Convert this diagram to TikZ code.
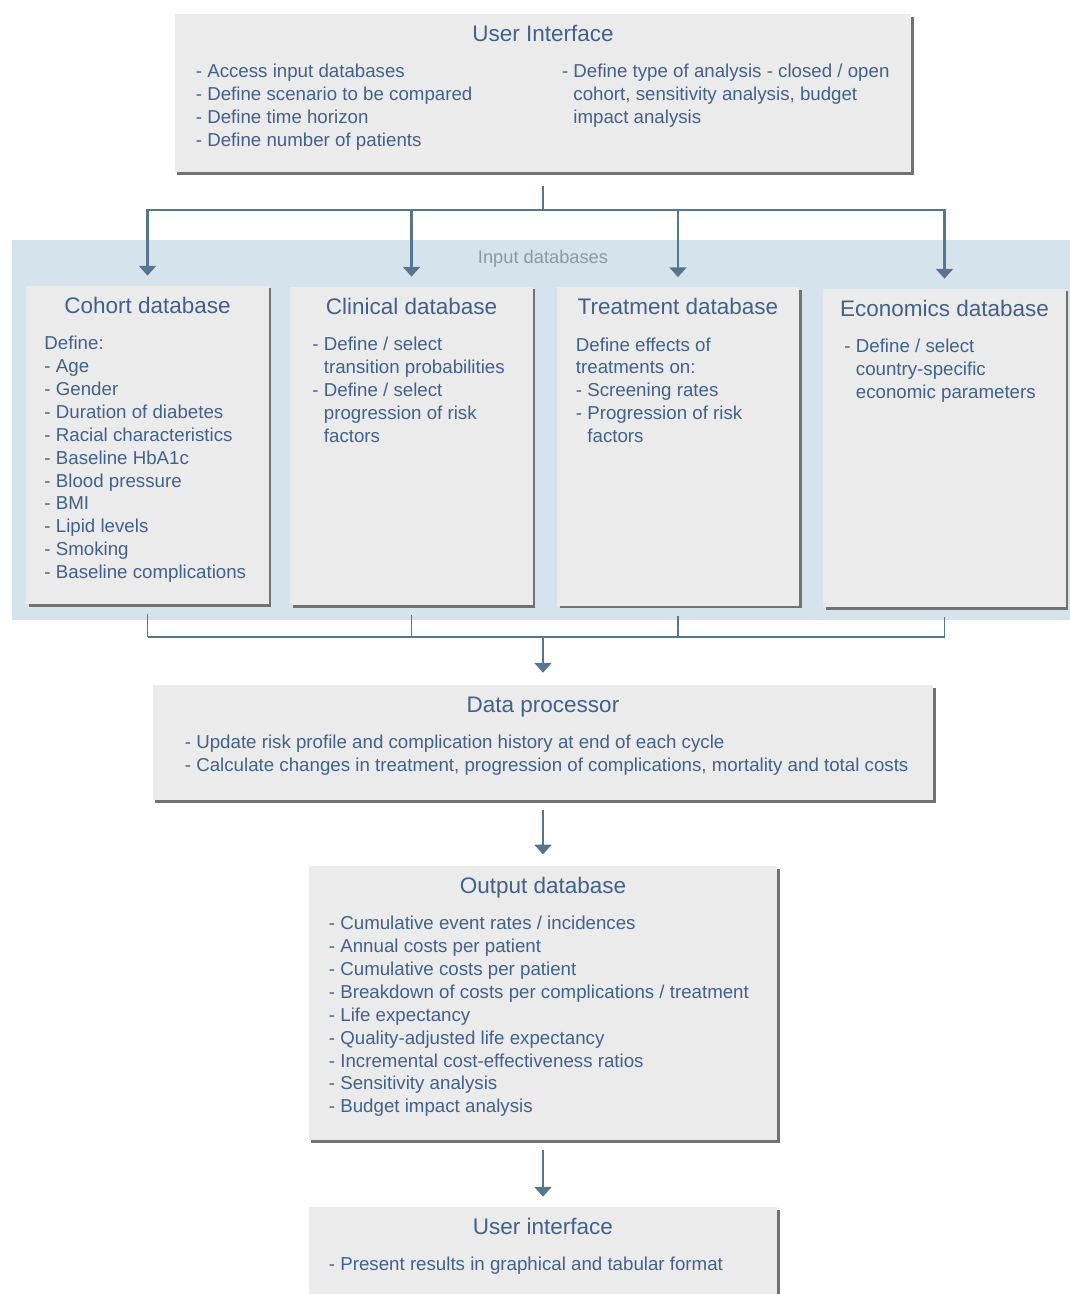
\documentclass[tikz,border=0pt]{standalone}
\usepackage{fontspec}
\setmainfont{Liberation Sans}
\usetikzlibrary{positioning,arrows.meta,shadows}

\definecolor{boxgray}{HTML}{ECEBEB}
\definecolor{bandblue}{HTML}{D5E3EC}
\definecolor{textblue}{HTML}{41618A}
\definecolor{linkblue}{HTML}{56768F}
\definecolor{shadegray}{HTML}{727272}
\definecolor{labelgray}{HTML}{8D99A3}

\begin{document}
\begin{tikzpicture}[x=0.025cm,y=-0.025cm,
  box/.style={fill=boxgray,inner sep=0pt,
    drop shadow={shadow xshift=1.8pt,shadow yshift=-1.8pt,fill=shadegray,opacity=1}},
  dbbox/.style={box,minimum width=6.05cm,minimum height=7.95cm},
  title/.style={font=\fontsize{16}{19}\selectfont,text=textblue,inner sep=0pt,
    text height=12pt,text depth=3pt},
  items/.style={font=\fontsize{13.3}{16.3}\selectfont,text=textblue,align=left,inner sep=0pt},
  link/.style={draw=linkblue,line width=2pt},
  thin link/.style={draw=linkblue,line width=0.8pt},
  arrow/.style={link,-{Triangle[width=12pt,length=7pt]}}]

\useasboundingbox (0,0) rectangle (1070,1294);

% user interface
\node[box,minimum width=18.4cm,minimum height=3.95cm] (ui) at (543,93) {};
\node[title,below=0.26cm of ui.north] (ui-title) {User Interface};
\node[items,below right=1.25cm and 0.525cm of ui.north west] (ui-left)
  {- Access input databases\\- Define scenario to be compared\\- Define time horizon\\- Define number of patients};
\node[items,below right=1.25cm and 9.675cm of ui.north west] (ui-right)
  {- Define type of analysis - closed / open\\\phantom{- }cohort, sensitivity analysis, budget\\\phantom{- }impact analysis};

% input databases
\fill[bandblue] (12,240) rectangle (1070,620);
\node[font=\fontsize{13}{16}\selectfont,text=labelgray] (inputs) at (543,259) {Input databases};

\node[dbbox] (cohort) at (147.5,445) {};
\node[dbbox] (clinical) at (411.5,446) {};
\node[dbbox] (treatment) at (678,446.5) {};
\node[dbbox] (economics) at (944.5,448) {};

\node[title,below=0.26cm of cohort.north] (cohort-title) {Cohort database};
\node[title,below=0.26cm of clinical.north] (clinical-title) {Clinical database};
\node[title,below=0.26cm of treatment.north] (treatment-title) {Treatment database};
\node[title,below=0.26cm of economics.north] (economics-title) {Economics database};

\node[items,below right=1.25cm and 0.45cm of cohort.north west] (cohort-items)
  {Define:\\- Age\\- Gender\\- Duration of diabetes\\- Racial characteristics\\- Baseline HbA1c\\- Blood pressure\\- BMI\\- Lipid levels\\- Smoking\\- Baseline complications};
\node[items,below right=1.25cm and 0.55cm of clinical.north west] (clinical-items)
  {- Define / select\\\phantom{- }transition probabilities\\- Define / select\\\phantom{- }progression of risk\\\phantom{- }factors};
\node[items,below right=1.25cm and 0.475cm of treatment.north west] (treatment-items)
  {Define effects of\\treatments on:\\- Screening rates\\- Progression of risk\\\phantom{- }factors};
\node[items,below right=1.25cm and 0.525cm of economics.north west] (economics-items)
  {- Define / select\\\phantom{- }country-specific\\\phantom{- }economic parameters};

% data processor
\node[box,minimum width=19.5cm,minimum height=2.875cm] (dp) at (543,742.5) {};
\node[title,below=0.26cm of dp.north] (dp-title) {Data processor};
\node[items,below right=1.25cm and 0.8cm of dp.north west] (dp-items)
  {- Update risk profile and complication history at end of each cycle\\- Calculate changes in treatment, progression of complications, mortality and total costs};

% output database
\node[box,minimum width=11.7cm,minimum height=6.85cm] (output) at (543,1003) {};
\node[title,below=0.26cm of output.north] (output-title) {Output database};
\node[items,below right=1.25cm and 0.5cm of output.north west] (output-items)
  {- Cumulative event rates / incidences\\- Annual costs per patient\\- Cumulative costs per patient\\- Breakdown of costs per complications / treatment\\- Life expectancy\\- Quality-adjusted life expectancy\\- Incremental cost-effectiveness ratios\\- Sensitivity analysis\\- Budget impact analysis};

% user interface (results)
\node[box,minimum width=11.7cm,minimum height=3cm] (ui2) at (543,1267) {};
\node[title,below=0.26cm of ui2.north] (ui2-title) {User interface};
\node[items,below right=1.25cm and 0.5cm of ui2.north west] (ui2-items)
  {- Present results in graphical and tabular format};

% connectors
\coordinate (split) at (543,210);
\coordinate (merge) at (543,637);
\draw[link,shorten <=0.33cm] (ui.south) -- (split);
\foreach \db in {cohort,clinical,treatment,economics}
  \draw[arrow,shorten >=0.25cm] (split) -| (\db.north);
\foreach \db in {cohort,clinical,treatment,economics}
  \draw[thin link,shorten <=0.25cm] (\db.south) -- (\db.south |- merge);
\draw[link] (cohort.south |- merge) -- (economics.south |- merge);
\draw[arrow,shorten >=0.3cm] (merge) -- (dp.north);
\draw[arrow,shorten <=0.25cm,shorten >=0.28cm] (dp.south) -- (output.north);
\draw[arrow,shorten <=0.25cm,shorten >=0.25cm] (output.south) -- (ui2.north);

\end{tikzpicture}
\end{document}
